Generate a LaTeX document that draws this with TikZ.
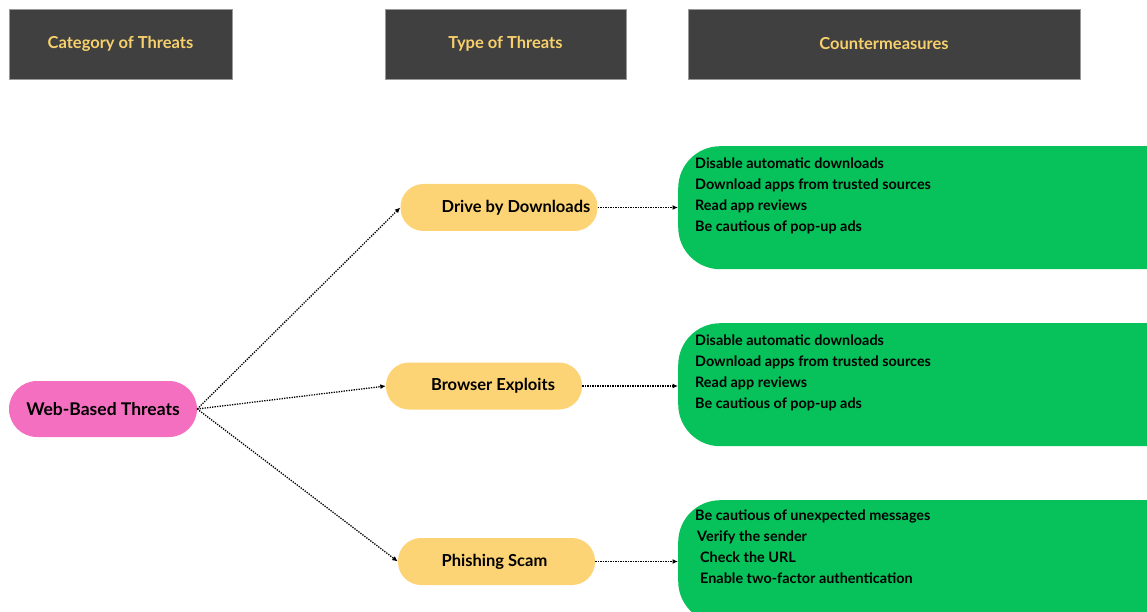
\documentclass[tikz,border=0pt]{standalone}
\usepackage{fontspec}
\setmainfont{Lato}
\usetikzlibrary{arrows.meta}
\definecolor{hdrbg}{HTML}{404040}
\definecolor{hdrtxt}{HTML}{F7D06C}
\definecolor{ylw}{HTML}{FDD475}
\definecolor{pnk}{HTML}{F56FC0}
\definecolor{grn}{HTML}{07C25A}
\tikzset{
  hdr/.style={draw=gray!80, fill=hdrbg, line width=0.8pt, minimum height=70pt, text=hdrtxt,
    font=\bfseries\fontsize{16.5}{19}\selectfont, inner sep=0pt},
  typebox/.style={fill=ylw, rounded corners=23pt, minimum height=47pt, minimum width=197pt,
    font=\bfseries\fontsize{16.5}{19}\selectfont, inner sep=0pt},
  catbox/.style={fill=pnk, rounded corners=28pt, minimum height=56pt, minimum width=188pt,
    font=\bfseries\fontsize{17.5}{20}\selectfont, inner sep=0pt},
  cmbox/.style={fill=grn, rounded corners=42pt, minimum height=123pt, minimum width=520pt,
    anchor=north west, inner sep=0pt},
  cmtext/.style={anchor=north west, align=left, inner sep=0pt,
    font=\bfseries\fontsize{14.4}{21}\selectfont},
  conn/.style={dash pattern=on 1.3pt off 1.2pt, line width=1.3pt, -{Latex[length=5.5pt,width=5pt]}}
}
\begin{document}
\begin{tikzpicture}[x=1pt,y=-1pt]
\useasboundingbox (0,0) rectangle (1147,612);
\clip (0,0) rectangle (1147,612);
% headers
\node[hdr, minimum width=223pt] (h1) at (120.5,44) {Category of Threats};
\node[hdr, minimum width=241pt] (h2) at (505.5,44) {Type of Threats};
\node[hdr, minimum width=392pt] (h3) at (884,44) {Countermeasures};
% category
\node[catbox] (cat) at (103,409) {Web-Based Threats};
% types
\node[typebox] (t1) at (499,207.5) {\hspace*{34pt}Drive by Downloads};
\node[typebox, minimum width=196pt] (t2) at (484,386) {\hspace*{18pt}Browser Exploits};
\node[typebox] (t3) at (496.5,561.5) {\hspace*{-4pt}Phishing Scam};
% countermeasure boxes
\node[cmbox] (c1) at (678,146) {};
\node[cmbox] (c2) at (678,323) {};
\node[cmbox] (c3) at (678,500) {};
\node[cmtext] (c1t) at (695,157.5) {Disable automatic downloads\\Download apps from trusted sources\\Read app reviews\\Be cautious of pop-up ads};
\node[cmtext] (c2t) at (695,334.5) {Disable automatic downloads\\Download apps from trusted sources\\Read app reviews\\Be cautious of pop-up ads};
\node[cmtext] (c3t) at (695,509.5) {Be cautious of unexpected messages\\\hspace*{2pt}Verify the sender\\\hspace*{5pt}Check the URL\\\hspace*{5pt}Enable two-factor authentication};
% connectors
\draw[conn] (cat.east) -- (t1.west);
\draw[conn] (cat.east) -- (t2.west);
\draw[conn] (cat.east) -- (t3.west);
\draw[conn] (t1.east) -- (t1.east -| c1.west);
\draw[conn] (t2.east) -- (t2.east -| c2.west);
\draw[conn] (t3.east) -- (t3.east -| c3.west);
\end{tikzpicture}
\end{document}
